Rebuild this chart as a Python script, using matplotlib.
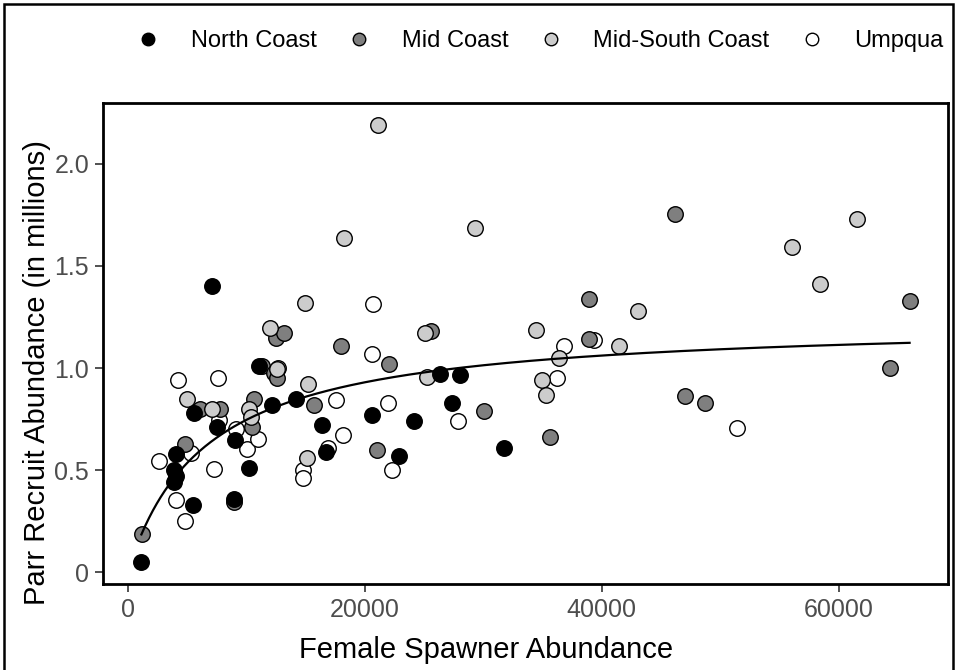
import numpy as np
import matplotlib
matplotlib.use("Agg")
import matplotlib.pyplot as plt
from matplotlib.lines import Line2D
from matplotlib.patches import Rectangle

plt.rcParams['font.family'] = ['Liberation Sans', 'DejaVu Sans']

# ---- data (female spawners, parr recruits in millions) ----
north_x = [1160, 3940, 4040, 3940, 4090, 5500, 5560, 7100, 7520, 8990, 9090, 10250,
           11060, 12170, 14240, 16360, 16720, 20600, 22930, 24140, 26310, 27320, 28030, 31710]
north_y = [0.05, 0.50, 0.47, 0.44, 0.58, 0.33, 0.78, 1.40, 0.71, 0.36, 0.65, 0.51,
           1.01, 0.82, 0.85, 0.72, 0.59, 0.77, 0.57, 0.74, 0.97, 0.83, 0.965, 0.61]

mid_x = [1190, 4800, 6090, 7800, 8990, 10520, 10630, 11370, 12360, 12580, 12500, 13160,
         15710, 17990, 21050, 22070, 25630, 30030, 35650, 38890, 38890, 46130, 47000,
         48740, 64330, 65960]
mid_y = [0.19, 0.63, 0.80, 0.80, 0.345, 0.71, 0.85, 1.01, 0.975, 0.95, 1.145, 1.17,
         0.82, 1.11, 0.60, 1.02, 1.18, 0.79, 0.66, 1.34, 1.14, 1.756, 0.865,
         0.83, 1.00, 1.33]

midsouth_x = [5040, 7150, 10250, 10390, 11990, 12630, 15000, 15250, 15120, 18270, 21080,
              25080, 25250, 29300, 34450, 34930, 35320, 36410, 41480, 43090, 56060,
              58390, 61510]
midsouth_y = [0.85, 0.80, 0.80, 0.76, 1.195, 0.995, 1.32, 0.92, 0.56, 1.634, 2.19,
              1.17, 0.955, 1.685, 1.185, 0.94, 0.87, 1.05, 1.11, 1.28, 1.593,
              1.41, 1.73]

umpqua_x = [2630, 4060, 4250, 4850, 5320, 7270, 7640, 7720, 9120, 10050, 11010, 12640,
            14750, 14750, 16920, 17560, 18130, 20630, 20680, 21980, 22290, 27880,
            36190, 36780, 39310, 51440]
umpqua_y = [0.546, 0.353, 0.94, 0.252, 0.582, 0.505, 0.952, 0.745, 0.70, 0.606, 0.655, 0.998,
            0.50, 0.462, 0.61, 0.844, 0.673, 1.069, 1.312, 0.828, 0.503, 0.741,
            0.952, 1.108, 1.136, 0.705]

labels = ["North Coast", "Mid Coast", "Mid-South Coast", "Umpqua"]
fills = ["#000000", "#7f7f7f", "#cccccc", "#ffffff"]

# Beverton-Holt fit parameters
bh_alpha = 1.883e-4   # productivity (recruits per spawner, millions)
bh_rmax = 1.235       # capacity (millions)

groups = {
    "North Coast": (north_x, north_y),
    "Mid Coast": (mid_x, mid_y),
    "Mid-South Coast": (midsouth_x, midsouth_y),
    "Umpqua": (umpqua_x, umpqua_y),
}

W, H = 956, 670
fig = plt.figure(figsize=(W / 100, H / 100), dpi=100)
ax = fig.add_axes([103 / W, 1 - 584 / H, (948 - 103) / W, (584 - 103) / H])

draw_order = ["Umpqua", "Mid Coast", "Mid-South Coast", "North Coast"]
for name in draw_order:
    xs, ys = groups[name]
    ax.scatter(xs, ys, s=125, c=fills[labels.index(name)], edgecolors="black",
               linewidths=1.0, zorder=3)

all_x = np.concatenate([np.asarray(v[0], float) for v in groups.values()])
all_y = np.concatenate([np.asarray(v[1], float) for v in groups.values()])
s = np.linspace(all_x.min(), all_x.max(), 400)
r = bh_alpha * s / (1 + bh_alpha * s / bh_rmax)
ax.plot(s, r, color="black", lw=1.6, zorder=4)

xr = all_x.max() - all_x.min()
yr = all_y.max() - all_y.min()
ax.set_xlim(all_x.min() - 0.05 * xr, all_x.max() + 0.05 * xr)
ax.set_ylim(all_y.min() - 0.05 * yr, all_y.max() + 0.05 * yr)

ax.set_xticks([0, 20000, 40000, 60000])
ax.set_xticklabels(["0", "20000", "40000", "60000"])
ax.set_yticks([0, 0.5, 1.0, 1.5, 2.0])
ax.set_yticklabels(["0", "0.5", "1.0", "1.5", "2.0"])

for sp in ax.spines.values():
    sp.set_linewidth(2.0)
    sp.set_color("black")
ax.tick_params(axis="both", length=6, width=1.2, color="#333333",
               labelsize=18, labelcolor="#4d4d4d", pad=4)

fig.text(486 / W, 1 - 650 / H, "Female Spawner Abundance", fontsize=21,
         ha="center", va="center", color="black")
fig.text(37 / W, 1 - 373 / H, "Parr Recruit Abundance (in millions)", fontsize=21,
         ha="center", va="center", rotation=90, color="black")

handles = [Line2D([0], [0], marker="o", linestyle="none", markersize=9,
                  markerfacecolor=f, markeredgecolor="black", markeredgewidth=1.0)
           for f in fills]
fig.legend(handles, labels, loc="center", ncol=4, frameon=False,
           bbox_to_anchor=(540 / W, 1 - 41 / H), fontsize=17,
           handletextpad=1.3, columnspacing=1.3, handlelength=1.0)

# figure frame
fig.patches.append(Rectangle((4 / W, -0.02), (953 - 4) / W, 1.02 - 4 / H,
                             transform=fig.transFigure, fill=False,
                             edgecolor="black", linewidth=1.8))

fig.savefig("out.png", dpi=100)
